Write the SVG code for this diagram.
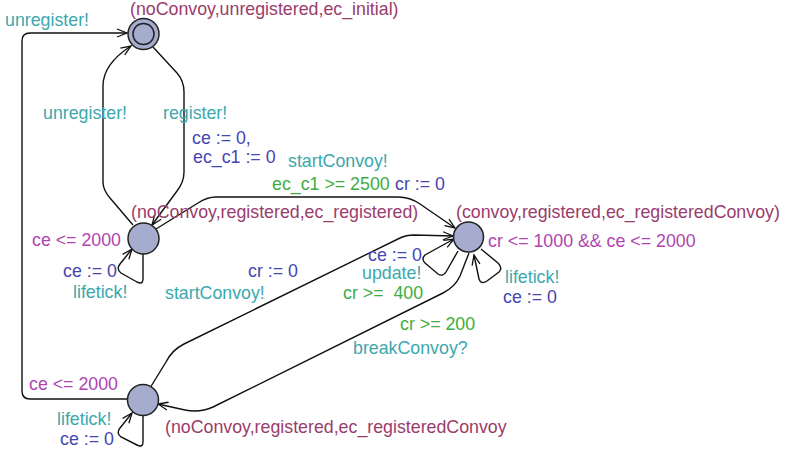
<svg xmlns="http://www.w3.org/2000/svg" width="787" height="452" viewBox="0 0 787 452">
<style>
text{font-family:"Liberation Sans",Arial,sans-serif;font-size:17.8px;white-space:pre}
.nm{fill:#9a3c6c}.inv{fill:#b044b0}.gd{fill:#40ad40}.sy{fill:#3ca8ad}.up{fill:#4446b2}
.loc{fill:#a6acce;stroke:#222;stroke-width:1.5}
.e{fill:none;stroke:#111;stroke-width:1.4;marker-end:url(#ah)}
</style>
<defs>
<marker id="ah" markerUnits="userSpaceOnUse" markerWidth="14" markerHeight="12" refX="11" refY="5" orient="auto">
<path d="M1,1 L11,5 L1,9" fill="none" stroke="#111" stroke-width="1.3"/>
</marker>
</defs>
<g id="connectors">
<path class="e" d="M128,399 L30,399 Q22,399 22,391 L22,41 Q22,33 30,33 L127,33"/>
<path class="e" d="M133,225 L110,198 Q103,190 103,182 L103,86 Q103,64 131,46"/>
<path class="e" d="M153,47 L177,73 Q184,81 184,92 L184,172 Q184,182 177,191 L152,225"/>
<path class="e" d="M156,229 L198,203 Q207,197 216,197 L398,197 Q410,197 420,204 L455,228"/>
<path class="e" d="M150,388 L166,362 Q172,350 184,344 L400,238 Q406,235 414,235 L453,236"/>
<path class="e" d="M469,253 L460,276 Q455,287 443,293 L213,407 Q200,413 185,410 L158,404"/>
<path class="e" d="M458,251 L446,272 Q443,277 438,274 L425,263 Q421,259 425,255 L454,239"/>
<path class="e" d="M481,249 L498,263 Q503,268 499,272 L487,281 Q481,285 479,279 L474,255"/>
<path class="e" d="M143,254 L143,279 Q143,285 137,282 L121,273 Q116,269 120,264 L132,249"/>
<path class="e" d="M143,416 L143,442 Q143,448 137,445 L121,437 Q116,433 120,428 L132,413"/>
</g>
<g id="initial">
<circle class="loc" cx="143.5" cy="34" r="15.5"/>
<circle cx="143.5" cy="34" r="10.5" fill="none" stroke="#222" stroke-width="1.5"/>
<text class="nm" x="130" y="15">(noConvoy,unregistered,ec_initial)</text>
</g>
<g id="registered">
<circle class="loc" cx="143.5" cy="238.5" r="15.5"/>
<text class="nm" x="131" y="218">(noConvoy,registered,ec_registered)</text>
<text class="inv" x="32" y="246">ce &lt;= 2000</text>
</g>
<g id="convoy">
<circle class="loc" cx="468.5" cy="237" r="15"/>
<text class="nm" x="456" y="218">(convoy,registered,ec_registeredConvoy)</text>
<text class="inv" x="488" y="247">cr &lt;= 1000 &amp;&amp; ce &lt;= 2000</text>
</g>
<g id="registeredConvoy">
<circle class="loc" cx="143" cy="400" r="15.5"/>
<text class="nm" x="165" y="433">(noConvoy,registered,ec_registeredConvoy</text>
<text class="inv" x="29" y="390">ce &lt;= 2000</text>
</g>
<g id="labels">
<text class="sy" x="5" y="26">unregister!</text>
<text class="sy" x="43" y="119">unregister!</text>
<text class="sy" x="163" y="119">register!</text>
<text class="up" x="192" y="144">ce := 0,</text>
<text class="up" x="193" y="163">ec_c1 := 0</text>
<text class="sy" x="288" y="167">startConvoy!</text>
<text class="gd" x="272" y="190">ec_c1 &gt;= 2500</text>
<text class="up" x="395" y="190">cr := 0</text>
<text class="up" x="63" y="277">ce := 0</text>
<text class="sy" x="73" y="298">lifetick!</text>
<text class="up" x="248" y="277">cr := 0</text>
<text class="sy" x="165" y="299">startConvoy!</text>
<text class="up" x="368" y="261">ce := 0</text>
<text class="sy" x="362" y="279">update!</text>
<text class="gd" x="343" y="299">cr &gt;=  400</text>
<text class="sy" x="505" y="283">lifetick!</text>
<text class="up" x="503" y="303">ce := 0</text>
<text class="gd" x="400" y="330">cr &gt;= 200</text>
<text class="sy" x="353" y="354">breakConvoy?</text>
<text class="sy" x="57" y="425">lifetick!</text>
<text class="up" x="60" y="445">ce := 0</text>
</g>
</svg>
